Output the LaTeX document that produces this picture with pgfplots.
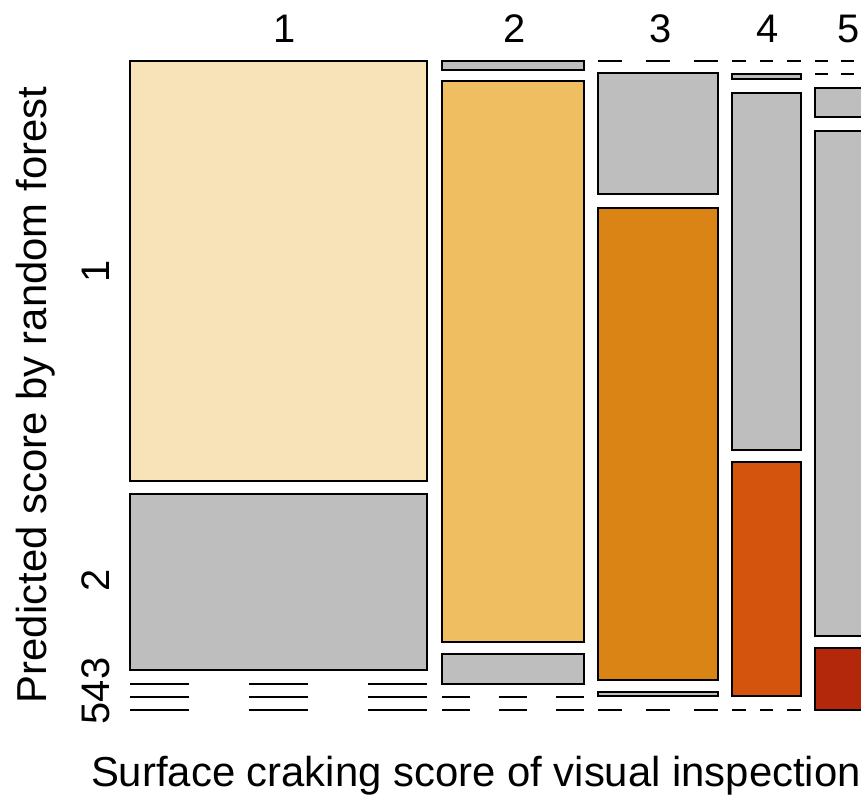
\documentclass[border=0pt]{standalone}
\usepackage{pgfplots}
\pgfplotsset{compat=1.18}
\usepackage{fontspec}
\setmainfont{Liberation Sans}
\definecolor{cA}{HTML}{F8E3B9}
\definecolor{cB}{HTML}{EEBE61}
\definecolor{cC}{HTML}{DB8416}
\definecolor{cD}{HTML}{D4540E}
\definecolor{cE}{HTML}{B3280B}
\definecolor{gr}{HTML}{BEBEBE}
\begin{document}
\begin{tikzpicture}
\begin{axis}[
  scale only axis, width=861bp, height=801bp,
  xmin=0, xmax=861, ymin=0, ymax=801, y dir=reverse,
  hide axis, clip mode=global,
  box/.style={draw=black, line width=2.4bp, line cap=rect, line join=miter},
  zl/.style={draw=black, line width=2.4bp, dash pattern=on #1 off #1},
]
\path (rel axis cs:0,0) rectangle (rel axis cs:1,1);
% column 1 (x 130--427)
\addplot[box, fill=cA] coordinates {(130,61) (427,61) (427,481) (130,481) (130,61)};
\addplot[box, fill=gr] coordinates {(130,494) (427,494) (427,670) (130,670) (130,494)};
\addplot[zl=59.4bp] coordinates {(130,684) (427,684)};
\addplot[zl=59.4bp] coordinates {(130,697) (427,697)};
\addplot[zl=59.4bp] coordinates {(130,710) (427,710)};
% column 2 (x 442--584)
\addplot[box, fill=gr] coordinates {(442,61) (584,61) (584,70) (442,70) (442,61)};
\addplot[box, fill=cB] coordinates {(442,81) (584,81) (584,642) (442,642) (442,81)};
\addplot[box, fill=gr] coordinates {(442,654) (584,654) (584,684) (442,684) (442,654)};
\addplot[zl=28.4bp] coordinates {(442,697) (584,697)};
\addplot[zl=28.4bp] coordinates {(442,710) (584,710)};
% column 3 (x 598--718)
\addplot[zl=24bp] coordinates {(598,61) (718,61)};
\addplot[box, fill=gr] coordinates {(598,73) (718,73) (718,194) (598,194) (598,73)};
\addplot[box, fill=cC] coordinates {(598,208) (718,208) (718,680) (598,680) (598,208)};
\addplot[box, fill=gr] coordinates {(598,692) (718,692) (718,696) (598,696) (598,692)};
\addplot[zl=24bp] coordinates {(598,710) (718,710)};
% column 4 (x 732--801)
\addplot[zl=13.8bp] coordinates {(732,61) (801,61)};
\addplot[box, fill=gr] coordinates {(732,74) (801,74) (801,79) (732,79) (732,74)};
\addplot[box, fill=gr] coordinates {(732,93) (801,93) (801,450) (732,450) (732,93)};
\addplot[box, fill=cD] coordinates {(732,462) (801,462) (801,696) (732,696) (732,462)};
\addplot[zl=13.8bp] coordinates {(732,710) (801,710)};
% column 5 (x 815--880)
\addplot[zl=13bp] coordinates {(815,61) (880,61)};
\addplot[zl=13bp] coordinates {(815,74) (880,74)};
\addplot[box, fill=gr] coordinates {(815,88) (880,88) (880,117) (815,117) (815,88)};
\addplot[box, fill=gr] coordinates {(815,131) (880,131) (880,636) (815,636) (815,131)};
\addplot[box, fill=cE] coordinates {(815,648) (880,648) (880,710) (815,710) (815,648)};
% labels
\begin{scope}[every node/.style={font=\fontsize{40}{48}\selectfont, inner sep=0pt}]
\node at (axis cs:285,29) {1};
\node at (axis cs:515,29) {2};
\node at (axis cs:661,29) {3};
\node at (axis cs:768,29) {4};
\node at (axis cs:849,29) {5};
\node[rotate=90] at (axis cs:96,271) {1};
\node[rotate=90] at (axis cs:96,580) {2};
\node[rotate=90] at (axis cs:96,691) {543};
\node[rotate=90, font=\fontsize{42}{50}\selectfont] at (axis cs:36,395) {Predicted score by random forest};
\node[font=\fontsize{42}{50}\selectfont] at (axis cs:476,776) {Surface craking score of visual inspection};
\end{scope}
\end{axis}
\end{tikzpicture}
\end{document}
